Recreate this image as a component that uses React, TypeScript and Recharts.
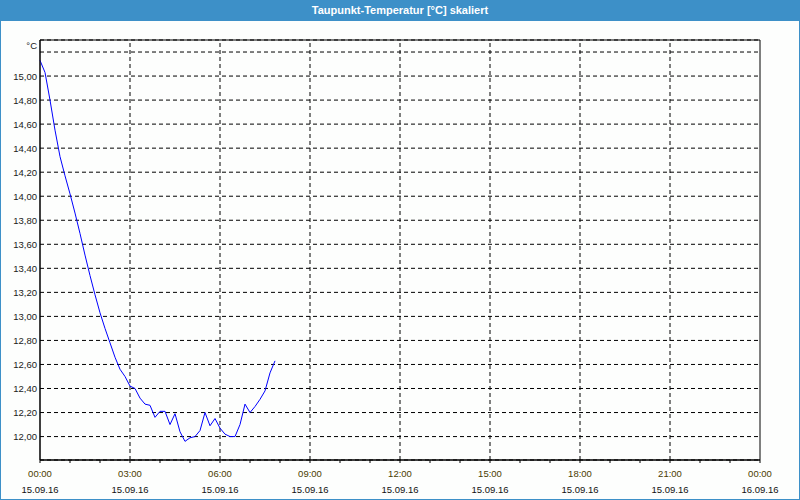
import React from "react";
import {
  CartesianGrid,
  Line,
  LineChart,
  ReferenceArea,
  ReferenceLine,
  XAxis,
  YAxis,
} from "recharts";

// dew point, one reading every 10 minutes from 00:00 on 15.09.16
const sampleMinutes = 10;
const dewPoint = [
  15.13, 15.03, 14.8, 14.55, 14.33, 14.17, 14.02, 13.86, 13.69, 13.51,
  13.34, 13.18, 13.03, 12.9, 12.78, 12.66, 12.56, 12.5, 12.42, 12.4,
  12.32, 12.27, 12.26, 12.16, 12.21, 12.21, 12.1, 12.19, 12.04, 11.96,
  11.99, 12.0, 12.05, 12.2, 12.09, 12.15, 12.07, 12.02, 12.0, 12.0,
  12.1, 12.27, 12.2, 12.25, 12.31, 12.38, 12.53, 12.63,
];

const hourTicks = [
  0, 1, 2, 3, 4, 5, 6, 7, 8, 9, 10, 11, 12, 13, 14, 15, 16, 17, 18, 19, 20,
  21, 22, 23, 24,
];
const labelHours = [0, 3, 6, 9, 12, 15, 18, 21, 24];
const timeLabels = [
  "00:00", "03:00", "06:00", "09:00", "12:00", "15:00", "18:00", "21:00", "00:00",
];
const dateLabels = [
  "15.09.16", "15.09.16", "15.09.16", "15.09.16", "15.09.16",
  "15.09.16", "15.09.16", "15.09.16", "16.09.16",
];
const gridHours = [3, 6, 9, 12, 15, 18, 21];

const yTicks = [
  12.0, 12.2, 12.4, 12.6, 12.8, 13.0, 13.2, 13.4, 13.6, 13.8, 14.0, 14.2,
  14.4, 14.6, 14.8, 15.0, 15.2,
];
const yMin = 11.805;
const yMax = 15.3;
const unitLabel = "°C";
const title = "Taupunkt-Temperatur [°C] skaliert";

const data = dewPoint.map((v, i) => ({ h: (i * sampleMinutes) / 60, v }));

const FONT = "'Liberation Sans', Arial, sans-serif";
const BLUE = "#3d90c8";

function XTick(props: any) {
  const { x, y, payload } = props;
  const idx = labelHours.indexOf(payload.value);
  if (idx < 0) return null;
  return (
    <g>
      <text
        x={x}
        y={y + 10}
        textAnchor="middle"
        dominantBaseline="central"
        fontSize={9.5}
        fontFamily={FONT}
        fill="#4a3c00"
      >
        {timeLabels[idx]}
      </text>
      <text
        x={x}
        y={y + 26}
        textAnchor="middle"
        dominantBaseline="central"
        fontSize={9.5}
        fontFamily={FONT}
        fill="#111"
      >
        {dateLabels[idx]}
      </text>
    </g>
  );
}

function YTick(props: any) {
  const { x, y, payload } = props;
  const isTop = payload.value === yTicks[yTicks.length - 1];
  return (
    <text
      x={x}
      y={isTop ? y - 7 : y}
      textAnchor="end"
      dominantBaseline="central"
      fontSize={9.5}
      fontFamily={FONT}
      fill="#1a1a1a"
    >
      {isTop ? unitLabel : payload.value.toFixed(2).replace(".", ",")}
    </text>
  );
}

export default function App() {
  return (
    <div
      style={{
        position: "absolute",
        left: 0,
        top: 0,
        width: 800,
        height: 500,
        background: "#fdfefd",
      }}
    >
      <LineChart
        width={800}
        height={500}
        data={data}
        margin={{ top: 40, right: 40, left: 0, bottom: 0 }}
      >
        <CartesianGrid
          vertical={false}
          stroke="#000"
          strokeDasharray="4 3"
        />
        {gridHours.map((h) => (
          <ReferenceLine
            key={h}
            x={h}
            stroke="#000"
            strokeDasharray="4 3"
          />
        ))}
        <XAxis
          dataKey="h"
          type="number"
          domain={[0, 24]}
          ticks={hourTicks}
          interval={0}
          height={40}
          tickSize={3}
          tickMargin={0}
          tick={<XTick />}
          stroke="#000"
        />
        <YAxis
          type="number"
          domain={[yMin, yMax]}
          allowDataOverflow
          ticks={yTicks}
          interval={0}
          width={40}
          tickSize={0}
          tickMargin={3}
          tickLine={false}
          tick={<YTick />}
          stroke="#000"
        />
        <ReferenceArea
          x1={0}
          x2={24}
          y1={yMin}
          y2={yMax}
          fill="none"
          fillOpacity={0}
          stroke="#000"
          strokeOpacity={1}
        />
        <Line
          type="linear"
          dataKey="v"
          stroke="#0000ff"
          strokeWidth={1}
          dot={false}
          isAnimationActive={false}
        />
      </LineChart>
      <div
        style={{
          position: "absolute",
          left: 0,
          top: 0,
          width: 800,
          height: 21,
          background: BLUE,
          color: "#fff",
          fontFamily: FONT,
          fontWeight: "bold",
          fontSize: 11,
          lineHeight: "20px",
          textAlign: "center",
        }}
      >
        {title}
      </div>
      <div
        style={{
          position: "absolute",
          left: 0,
          top: 0,
          width: 800,
          height: 500,
          boxSizing: "border-box",
          border: `1px solid ${BLUE}`,
          pointerEvents: "none",
        }}
      />
    </div>
  );
}
